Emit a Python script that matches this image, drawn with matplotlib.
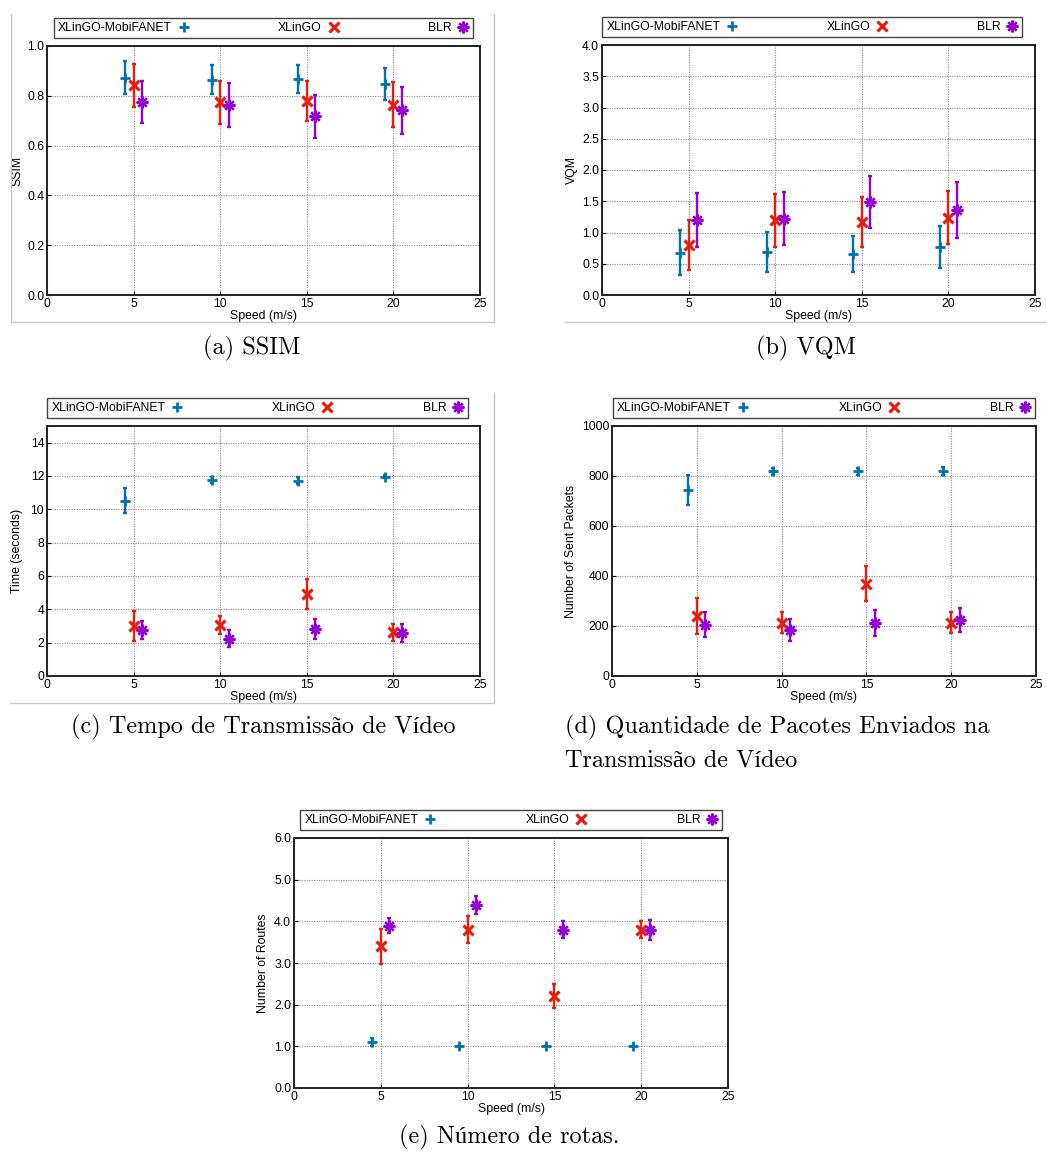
import matplotlib
matplotlib.use('Agg')
import matplotlib.pyplot as plt
from matplotlib.lines import Line2D
import numpy as np

# ---------------- data ----------------
speeds = np.array([5, 10, 15, 20])
x_ticks = [0, 5, 10, 15, 20, 25]
series_names = ['XLinGO-MobiFANET', 'XLinGO', 'BLR']
series_offsets = [-0.5, 0.0, 0.5]

# (a) SSIM
ssim_mobi = [0.873, 0.865, 0.867, 0.846]
ssim_mobi_err = [0.066, 0.059, 0.057, 0.064]
ssim_xlingo = [0.842, 0.774, 0.779, 0.764]
ssim_xlingo_err = [0.087, 0.087, 0.082, 0.090]
ssim_blr = [0.775, 0.764, 0.718, 0.742]
ssim_blr_err = [0.083, 0.089, 0.087, 0.094]

# (b) VQM
vqm_mobi = [0.673, 0.689, 0.662, 0.769]
vqm_mobi_err = [0.36, 0.315, 0.29, 0.33]
vqm_xlingo = [0.806, 1.196, 1.170, 1.239]
vqm_xlingo_err = [0.40, 0.42, 0.40, 0.43]
vqm_blr = [1.196, 1.223, 1.490, 1.356]
vqm_blr_err = [0.43, 0.43, 0.42, 0.45]

# (c) Time
time_mobi = [10.52, 11.74, 11.72, 11.96]
time_mobi_err = [0.75, 0.18, 0.19, 0.08]
time_xlingo = [2.98, 3.08, 4.90, 2.62]
time_xlingo_err = [0.90, 0.53, 0.90, 0.50]
time_blr = [2.74, 2.24, 2.84, 2.60]
time_blr_err = [0.54, 0.52, 0.60, 0.55]

# (d) Sent packets
pkt_mobi = [743, 818, 818, 818]
pkt_mobi_err = [60, 15, 15, 16]
pkt_xlingo = [240, 213, 370, 214]
pkt_xlingo_err = [71, 42, 69, 42]
pkt_blr = [206, 186, 213, 224]
pkt_blr_err = [50, 44, 51, 47]

# (e) Routes
routes_mobi = [1.10, 1.0, 1.0, 1.0]
routes_mobi_err = [0.10, 0.0, 0.0, 0.0]
routes_xlingo = [3.40, 3.80, 2.20, 3.80]
routes_xlingo_err = [0.42, 0.33, 0.29, 0.20]
routes_blr = [3.90, 4.40, 3.80, 3.80]
routes_blr_err = [0.17, 0.22, 0.20, 0.24]

captions = ['(a) SSIM', '(b) VQM', '(c) Tempo de Transmissão de Vídeo',
            '(d) Quantidade de Pacotes Enviados na\nTransmissão de Vídeo',
            '(e) Número de rotas.']

# ---------------- style ----------------
colors = ['#0072B2', '#E51E10', '#9400D3']
markers = ['+', 'x', (8, 2, 0)]
msizes = [7.5, 7.2, 8.5]
mews = [2.0, 2.3, 1.7]

plt.rcParams['font.family'] = ['Liberation Sans', 'DejaVu Sans']
FS = 8.8

W, H = 1047, 1153
fig = plt.figure(figsize=(W / 100, H / 100), dpi=100)


def px_axes(x0, x1, ytop, ybot):
    return fig.add_axes([x0 / W, 1 - ybot / H, (x1 - x0) / W, (ybot - ytop) / H])


panels = [
    dict(rect=(47, 480, 46, 295), ylim=(0, 1.0), yticks=np.arange(0, 1.01, 0.2), fmt='{:.1f}',
         ylabel='SSIM', ylx=-0.069, data=[(ssim_mobi, ssim_mobi_err), (ssim_xlingo, ssim_xlingo_err), (ssim_blr, ssim_blr_err)],
         leg=(0.016, 0.968)),
    dict(rect=(602, 1035, 45, 295), ylim=(0, 4.0), yticks=np.arange(0, 4.01, 0.5), fmt='{:.1f}',
         ylabel='VQM', ylx=-0.069, data=[(vqm_mobi, vqm_mobi_err), (vqm_xlingo, vqm_xlingo_err), (vqm_blr, vqm_blr_err)],
         leg=(0.0, 0.970)),
    dict(rect=(47, 480, 426, 676), ylim=(0, 15), yticks=np.arange(0, 15, 2), fmt='{:.0f}',
         ylabel='Time (seconds)', ylx=-0.069, data=[(time_mobi, time_mobi_err), (time_xlingo, time_xlingo_err), (time_blr, time_blr_err)],
         leg=(0.0, 0.972)),
    dict(rect=(612, 1036, 426, 676), ylim=(0, 1000), yticks=np.arange(0, 1001, 200), fmt='{:.0f}',
         ylabel='Number of Sent Packets', ylx=-0.097, data=[(pkt_mobi, pkt_mobi_err), (pkt_xlingo, pkt_xlingo_err), (pkt_blr, pkt_blr_err)],
         leg=(0.002, 0.995)),
    dict(rect=(294, 728, 838, 1088), ylim=(0, 6.0), yticks=np.arange(0, 6.01, 1.0), fmt='{:.1f}',
         ylabel='Number of Routes', ylx=-0.071, data=[(routes_mobi, routes_mobi_err), (routes_xlingo, routes_xlingo_err), (routes_blr, routes_blr_err)],
         leg=(0.014, 0.972)),
]

for p in panels:
    ax = px_axes(*p['rect'])
    for i, (vals, errs) in enumerate(p['data']):
        ax.errorbar(speeds + series_offsets[i], vals, yerr=errs, fmt='none',
                    ecolor=colors[i], elinewidth=1.7, capsize=1.3, capthick=1.7, zorder=3)
        ax.plot(speeds + series_offsets[i], vals, linestyle='none', marker=markers[i],
                color=colors[i], ms=msizes[i], mew=mews[i], zorder=4)
    ax.set_xlim(0, 25)
    ax.set_ylim(*p['ylim'])
    ax.set_xticks(x_ticks)
    ax.set_yticks(p['yticks'])
    ax.set_yticklabels([p['fmt'].format(v) for v in p['yticks']])
    ax.grid(True, color='#8a8a8a', linestyle=(0, (1, 1.2)), linewidth=0.8, zorder=1)
    ax.set_axisbelow(True)
    for s in ax.spines.values():
        s.set_linewidth(1.4)
        s.set_color('#222222')
    ax.tick_params(direction='in', length=3, width=0.8, labelsize=FS, pad=2)
    ax.set_xlabel('Speed (m/s)', fontsize=FS)
    ax.xaxis.set_label_coords(0.5, -0.085)
    ax.xaxis.label.set_va('center')
    ax.set_ylabel(p['ylabel'], fontsize=FS)
    ax.yaxis.set_label_coords(p['ylx'], 0.5)
    ax.yaxis.label.set_va('center')

    handles = [Line2D([], [], linestyle='none', marker=markers[i], color=colors[i],
                      ms=msizes[i], mew=mews[i]) for i in range(3)]
    x0, w = p['leg']
    leg = ax.legend(handles, series_names, loc='center', bbox_to_anchor=(x0, 1.028, w, 0.088),
                    mode='expand', ncol=3, markerfirst=False, fancybox=False, framealpha=1,
                    edgecolor='#444444', borderaxespad=0, borderpad=0.35, handlelength=0.9,
                    handletextpad=0.5, fontsize=FS, columnspacing=1.0)
    leg.get_frame().set_linewidth(1.0)

# ---------------- captions ----------------
cap_font = dict(family=['cmr10', 'Liberation Serif'], fontsize=17.5)
fig.text(252 / W, 1 - 348 / H, captions[0], ha='center', va='center', **cap_font)
fig.text(806 / W, 1 - 348 / H, captions[1], ha='center', va='center', **cap_font)
fig.text(263 / W, 1 - 727 / H, captions[2], ha='center', va='center', **cap_font)
line1, line2 = captions[3].split('\n')
fig.text(565 / W, 1 - 727 / H, line1, ha='left', va='center', **cap_font)
fig.text(565 / W, 1 - 760 / H, line2, ha='left', va='center', **cap_font)
fig.text(509 / W, 1 - 1137 / H, captions[4], ha='center', va='center', **cap_font)

# light frame lines around some sub-figures
def fline(xs, ys):
    fig.add_artist(Line2D([x / W for x in xs], [1 - y / H for y in ys], color='#c8c8c8', lw=1.0))

fline([11, 11, 494, 494], [14, 322, 322, 14])
fline([565, 1047], [322, 322])
fline([10, 494, 494], [703, 703, 393])

fig.savefig('out.png', dpi=100)
